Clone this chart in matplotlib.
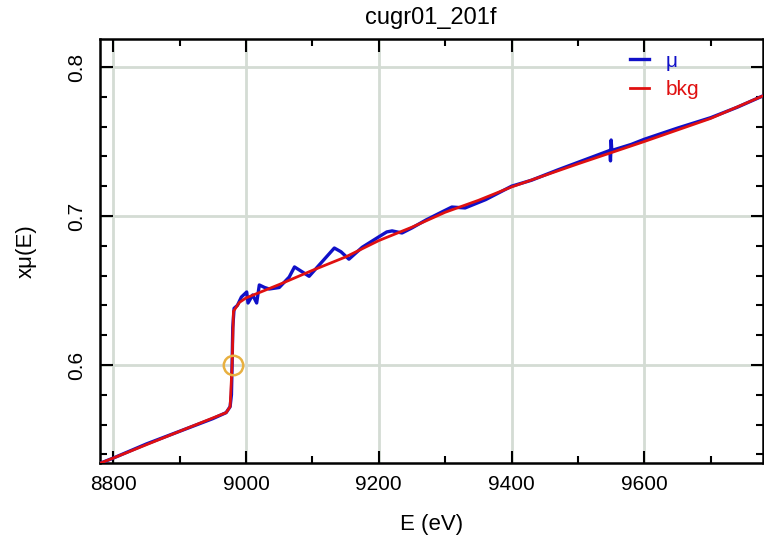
import matplotlib
matplotlib.use("Agg")
import matplotlib.pyplot as plt
from matplotlib.ticker import MultipleLocator

plt.rcParams['font.family'] = ['Liberation Sans', 'DejaVu Sans']

# --- data ---
mu_e = [8780, 8800, 8850, 8900, 8950, 8970, 8976, 8978, 8979, 8980, 8982,
        8987, 8993, 9001, 9003, 9010, 9016, 9020, 9028, 9035, 9050, 9065,
        9073, 9085, 9095, 9108, 9120, 9133, 9143, 9155, 9175, 9200, 9212,
        9220, 9235, 9250, 9271, 9295, 9310, 9330, 9361, 9400, 9430, 9470,
        9500, 9530, 9548, 9549, 9550, 9551, 9580, 9600, 9650, 9700, 9740, 9778]
mu_y = [0.534, 0.5375, 0.547, 0.5555, 0.564, 0.568, 0.572, 0.580, 0.600, 0.625, 0.638,
        0.640, 0.6456, 0.649, 0.6416, 0.647, 0.6416, 0.6537, 0.652, 0.651, 0.652, 0.659,
        0.6658, 0.6624, 0.6595, 0.666, 0.672, 0.6785, 0.676, 0.671, 0.679, 0.686, 0.6893,
        0.690, 0.6886, 0.692, 0.6973, 0.7027, 0.706, 0.7054, 0.711, 0.7200, 0.724, 0.731,
        0.736, 0.741, 0.744, 0.737, 0.751, 0.744, 0.748, 0.7515, 0.759, 0.766, 0.773, 0.7805]

bkg_e = [8780, 8800, 8900, 8970, 8976, 8979, 8981, 8990, 9000, 9050, 9100, 9150,
         9200, 9250, 9300, 9350, 9400, 9500, 9600, 9700, 9778]
bkg_y = [0.534, 0.5375, 0.5555, 0.568, 0.572, 0.600, 0.636, 0.642, 0.645, 0.654, 0.6635, 0.6725,
         0.6835, 0.6925, 0.7025, 0.7105, 0.7195, 0.735, 0.750, 0.7655, 0.7805]

e0_e = [8980]
e0_y = [0.600]

fig = plt.figure(figsize=(7.64, 5.39), dpi=100)
ax = fig.add_axes([100 / 764, 1 - 463 / 539, 662.5 / 764, 424 / 539])

ax.plot(mu_e, mu_y, color='#1010c8', lw=2.4, label='μ', zorder=3)
ax.plot(bkg_e, bkg_y, color='#e01010', lw=2.0, label='bkg', zorder=4)
ax.plot(e0_e, e0_y, 'o', ms=14, mfc='none', mec='#e8b040', mew=1.8, zorder=5)

ax.set_xlim(8780, 9778)
ax.set_ylim(0.5342, 0.8188)
ax.xaxis.set_major_locator(MultipleLocator(200))
ax.xaxis.set_minor_locator(MultipleLocator(100))
ax.yaxis.set_major_locator(MultipleLocator(0.1))
ax.yaxis.set_minor_locator(MultipleLocator(0.02))
ax.tick_params(which='both', direction='in', top=True, right=True, labelsize=15, width=1.5)
ax.tick_params(which='major', length=9)
ax.tick_params(axis='x', which='major', pad=9)
ax.tick_params(axis='y', which='major', pad=10)
ax.tick_params(which='minor', length=5)
for lab in ax.get_yticklabels():
    lab.set_rotation(90)
    lab.set_va('center')
ax.grid(True, which='major', color='#d4dcd4', lw=2)
ax.set_axisbelow(True)
for sp in ax.spines.values():
    sp.set_linewidth(1.8)

ax.set_title('cugr01_201f', fontsize=17, pad=11)
ax.set_xlabel('E (eV)', fontsize=16, labelpad=14)
ax.set_ylabel('xμ(E)', fontsize=16, labelpad=22)

leg = ax.legend(loc='upper left', bbox_to_anchor=(0.80, 0.97), frameon=False,
                borderaxespad=0, borderpad=0, handlelength=0.9, handletextpad=0.8,
                labelspacing=0.45, fontsize=15, labelcolor='linecolor')

fig.savefig('out.png', dpi=100)
